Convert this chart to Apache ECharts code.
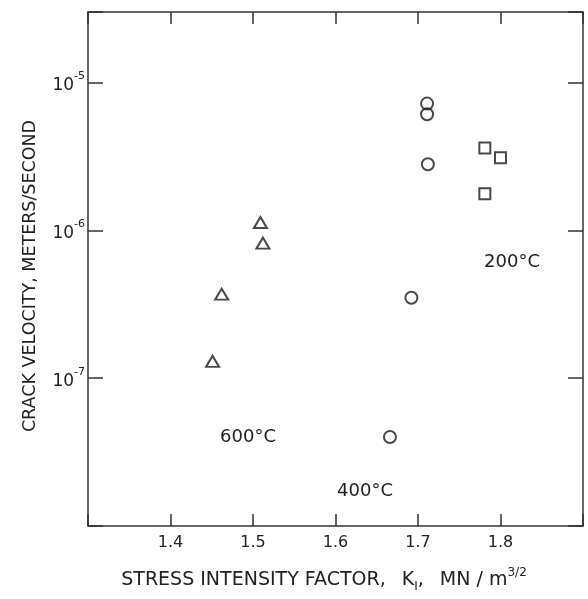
<!DOCTYPE html>
<html>
<head>
<meta charset="utf-8">
<script src="https://cdn.jsdelivr.net/npm/echarts@6/dist/echarts.min.js"></script>
<style>
html,body{margin:0;padding:0;background:#fff;}
#c{width:588px;height:599px;}
</style>
</head>
<body>
<div id="c"></div>
<script>
// ---- data ----
const k600 = [1.509, 1.512, 1.462, 1.451];
const v600 = [1.13e-6, 8.2e-7, 3.7e-7, 1.3e-7];
const k400 = [1.711, 1.711, 1.712, 1.692, 1.666];
const v400 = [7.2e-6, 6.1e-6, 2.8e-6, 3.5e-7, 4.0e-8];
const k200 = [1.781, 1.800, 1.781];
const v200 = [3.6e-6, 3.1e-6, 1.77e-6];
const xTickLabels = ['1.4', '1.5', '1.6', '1.7', '1.8'];
const yTickExponents = [-7, -6, -5];
const annotations = ['600°C', '400°C', '200°C'];

const pairs = (xs, ys) => xs.map((x, i) => [x, ys[i]]);
const ink = '#222222';
const markInk = '#1c1c1c';
const lineCol = '#333333';
const font = 'DejaVu Sans';

const chart = echarts.init(document.getElementById('c'), null, {renderer: 'canvas'});

const xLabelFmt = v => {
  const s = (Math.round(v * 10) / 10).toFixed(1);
  return xTickLabels.indexOf(s) >= 0 ? s : '';
};
const yLabelFmt = v => {
  const e = Math.log10(v);
  const r = Math.round(e);
  if (Math.abs(e - r) > 1e-6 || yTickExponents.indexOf(r) < 0) return '';
  return '{b|10}{s|' + r + '}';
};

const xBase = {
  type: 'value', min: 1.3, max: 1.9, interval: 0.1,
  splitLine: {show: false},
  axisLine: {show: true, onZero: false, lineStyle: {color: lineCol, width: 1.5}},
  axisTick: {show: true, inside: true, length: 12, lineStyle: {color: lineCol, width: 1.5}}
};
const yBase = {
  type: 'log', logBase: 10, min: 1e-8, max: 3e-5,
  splitLine: {show: false}, minorTick: {show: false},
  axisLine: {show: true, onZero: false, lineStyle: {color: lineCol, width: 1.5}},
  axisTick: {show: true, inside: true, length: 15, lineStyle: {color: lineCol, width: 1.5}}
};

const option = {
  animation: false,
  backgroundColor: '#fff',
  grid: {left: 88, right: 5, top: 12, bottom: 73, containLabel: false, outerBoundsMode: 'none'},
  xAxis: [
    Object.assign({}, xBase, {
      position: 'bottom',
      axisLabel: {show: true, formatter: xLabelFmt, margin: 9, color: ink, fontFamily: font, fontSize: 16}
    }),
    Object.assign({}, xBase, {position: 'top', axisLabel: {show: false}})
  ],
  yAxis: [
    Object.assign({}, yBase, {
      position: 'left',
      axisLabel: {
        show: true, formatter: yLabelFmt, margin: 3, color: ink, fontFamily: font,
        rich: {
          b: {fontSize: 17, fontFamily: font, color: ink, lineHeight: 24, verticalAlign: 'bottom'},
          s: {fontSize: 11, fontFamily: font, color: ink, lineHeight: 24, verticalAlign: 'top'}
        }
      }
    }),
    Object.assign({}, yBase, {position: 'right', axisLabel: {show: false}})
  ],
  series: [
    {
      name: annotations[0], type: 'scatter', xAxisIndex: 0, yAxisIndex: 0,
      data: pairs(k600, v600), symbol: 'triangle', symbolSize: [13, 11],
      itemStyle: {color: 'rgba(0,0,0,0)', borderColor: markInk, borderWidth: 2}
    },
    {
      name: annotations[1], type: 'scatter', xAxisIndex: 0, yAxisIndex: 0,
      data: pairs(k400, v400), symbol: 'circle', symbolSize: 12,
      itemStyle: {color: 'rgba(0,0,0,0)', borderColor: markInk, borderWidth: 2}
    },
    {
      name: annotations[2], type: 'scatter', xAxisIndex: 0, yAxisIndex: 0,
      data: pairs(k200, v200), symbol: 'rect', symbolSize: 11,
      itemStyle: {color: 'rgba(0,0,0,0)', borderColor: markInk, borderWidth: 2}
    }
  ],
  graphic: [
    {type: 'text', x: 248, y: 437, style: {text: annotations[0], font: '18px "DejaVu Sans"', fill: ink, align: 'center', verticalAlign: 'middle'}},
    {type: 'text', x: 365, y: 491, style: {text: annotations[1], font: '18px "DejaVu Sans"', fill: ink, align: 'center', verticalAlign: 'middle'}},
    {type: 'text', x: 512, y: 262, style: {text: annotations[2], font: '18px "DejaVu Sans"', fill: ink, align: 'center', verticalAlign: 'middle'}},
    {type: 'text', x: 30, y: 276, rotation: Math.PI / 2,
     style: {text: 'CRACK VELOCITY, METERS/SECOND', font: '17.5px "DejaVu Sans"', fill: ink, align: 'center', verticalAlign: 'middle'}},
    {type: 'text', x: 324, y: 580,
     style: {
       text: '{n|STRESS INTENSITY FACTOR, }{gap|}{n|K}{sub|I}{n|, }{gap|}{n|MN / m}{sup|3/2}',
       fill: ink, align: 'center', verticalAlign: 'middle',
       rich: {
         n: {fontSize: 19, fontFamily: font, fill: ink, lineHeight: 26, verticalAlign: 'middle'},
         gap: {width: 10, lineHeight: 26},
         sub: {fontSize: 12, fontFamily: font, fill: ink, lineHeight: 26, verticalAlign: 'bottom'},
         sup: {fontSize: 12, fontFamily: font, fill: ink, lineHeight: 26, verticalAlign: 'top'}
       }
     }}
  ]
};
chart.setOption(option);
</script>
</body>
</html>
